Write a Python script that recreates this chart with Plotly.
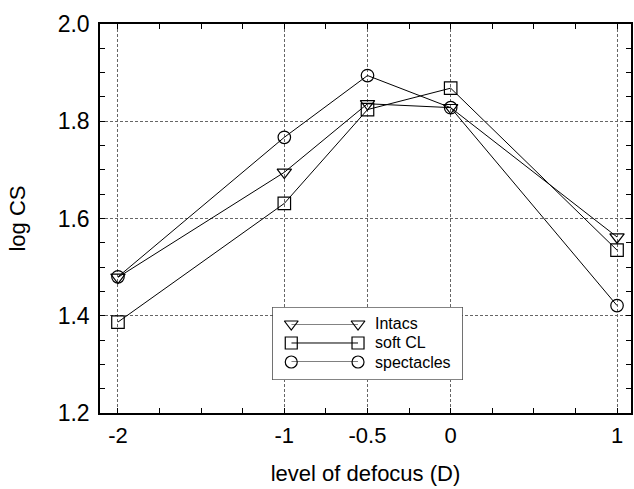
import plotly.graph_objects as go

# Defocus levels (D) and log contrast sensitivity for each correction
defocus = [-2, -1, -0.5, 0, 1]
intacs = [1.479, 1.695, 1.836, 1.828, 1.562]
soft_cl = [1.387, 1.631, 1.824, 1.868, 1.535]
spectacles = [1.480, 1.767, 1.894, 1.828, 1.421]

series_names = ["Intacs", "soft CL", "spectacles"]
series_values = [intacs, soft_cl, spectacles]
series_symbols = ["triangle-down-open", "square-open", "circle-open"]

x_ticks = [-2, -1, -0.5, 0, 1]
x_ticktext = ["-2", "-1", "-0.5", "0", "1"]
y_ticks = [1.2, 1.4, 1.6, 1.8, 2.0]

FONT = "Arial, Liberation Sans, sans-serif"

fig = go.Figure()

for name, vals, sym in zip(series_names, series_values, series_symbols):
    fig.add_trace(go.Scatter(
        x=defocus, y=vals, name=name, mode="lines+markers",
        line=dict(color="black", width=1),
        marker=dict(symbol=sym, size=12.5, color="black", line=dict(width=1.2)),
        showlegend=False, cliponaxis=False,
    ))

# Key box: a white rectangle on its own small subplot, covering the grid
fig.add_trace(go.Scatter(
    x=[0, 1, 1, 0, 0], y=[0, 0, 1, 1, 0], mode="lines", fill="toself",
    fillcolor="white", line=dict(color="black", width=1),
    xaxis="x2", yaxis="y2", showlegend=False, cliponaxis=False,
    hoverinfo="skip",
))

# Key entries: a short line with a marker at both ends for each series
for i, (name, sym) in enumerate(zip(series_names, series_symbols)):
    fig.add_trace(go.Scatter(
        x=[0, 1], y=[i, i], mode="lines+markers", xaxis="x3", yaxis="y3",
        line=dict(color="black", width=1),
        marker=dict(symbol=sym, size=12, color="black", line=dict(width=1.2)),
        showlegend=False, cliponaxis=False, hoverinfo="skip",
    ))
    fig.add_annotation(
        x=1, y=i, xref="x3", yref="y3", text=name, showarrow=False,
        xanchor="left", yanchor="middle", xshift=15,
        font=dict(family=FONT, size=16, color="black"),
    )

axis_common = dict(
    showline=True, linecolor="black", linewidth=1.5, mirror="ticks",
    ticks="inside", ticklen=5, tickcolor="black",
    showgrid=True, gridcolor="#666666", gridwidth=1, griddash="3px,2px",
    zeroline=False,
)

hidden = dict(visible=False, fixedrange=True, showgrid=False, zeroline=False)

fig.update_layout(
    width=634, height=489,
    margin=dict(l=100, r=1, t=24, b=76),
    paper_bgcolor="white", plot_bgcolor="rgba(0,0,0,0)",
    font=dict(family=FONT, color="black"),
    xaxis=dict(
        **axis_common,
        range=[-2.108, 1.084],
        tickmode="array", tickvals=x_ticks, ticktext=x_ticktext,
        tickfont=dict(family=FONT, size=22, color="black"),
        minor=dict(ticks="inside", ticklen=5, tick0=-2, dtick=0.25,
                   tickcolor="black", showgrid=False),
        title=dict(text="level of defocus (D)", standoff=18,
                   font=dict(family=FONT, size=22, color="black")),
        ticklabelstandoff=2,
    ),
    yaxis=dict(
        **axis_common,
        range=[1.2, 2.0],
        tickmode="array", tickvals=y_ticks, tickformat=".1f",
        tickfont=dict(family=FONT, size=23, color="black"),
        minor=dict(ticks="inside", ticklen=5, tick0=1.2, dtick=0.05,
                   tickcolor="black", showgrid=False),
        title=dict(text="log CS", standoff=26,
                   font=dict(family=FONT, size=22, color="black")),
        ticklabelstandoff=4,
    ),
    xaxis2=dict(domain=[0.3246, 0.683], range=[0, 1], anchor="y2", **hidden),
    yaxis2=dict(domain=[0.0848, 0.2725], range=[0, 1], anchor="x2", **hidden),
    xaxis3=dict(domain=[0.3602, 0.4859], range=[0, 1], anchor="y3", **hidden),
    yaxis3=dict(domain=[0.1311, 0.2288], range=[2, 0], anchor="x3", **hidden),
)

fig.write_html("out.html")
